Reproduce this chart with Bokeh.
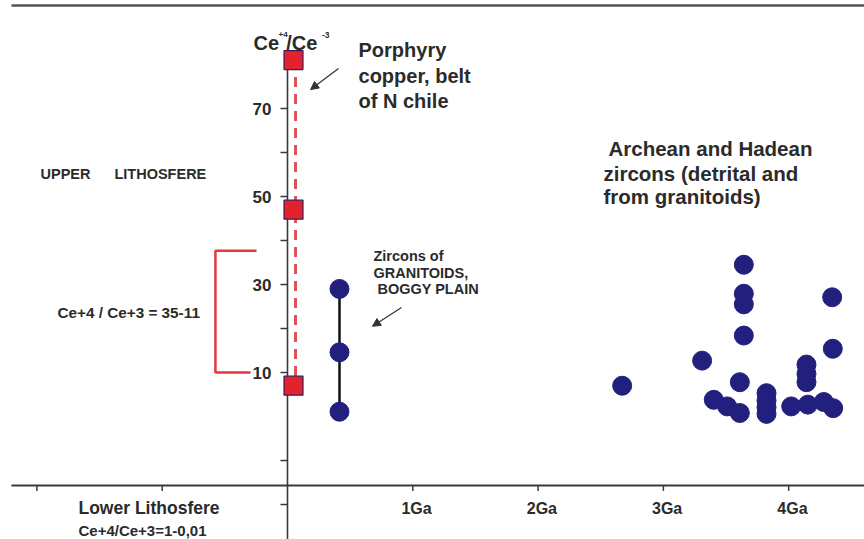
from bokeh.plotting import figure
from bokeh.models import Arrow, NormalHead
from bokeh.core.properties import value
from bokeh.embed import file_html
from bokeh.resources import INLINE

# --- data: Ce4+/Ce3+ ratio against age (Ga) ---
porphyry_ga = [0.048, 0.048, 0.048]
porphyry_ratio = [81.0, 47.0, 7.0]

granitoid_ga = [0.415, 0.415, 0.415]
granitoid_ratio = [29.0, 14.6, 1.1]

archean_ga = [3.642, 3.642, 3.642, 3.642, 4.347, 4.352, 3.309, 2.671, 3.610,
              4.142, 4.142, 4.142, 3.402, 3.509, 3.610, 3.823, 3.823, 3.823,
              3.823, 4.020, 4.153, 4.280, 4.355]
archean_ratio = [34.5, 27.9, 25.5, 18.4, 27.1, 15.4, 12.7, 7.0, 7.8,
                 11.8, 9.7, 7.8, 3.8, 2.3, 0.8, 5.3, 3.6, 2.1,
                 0.6, 2.3, 2.7, 3.3, 1.9]

# upper-lithosphere range bracket
bracket_low = 10.0
bracket_high = 37.7

# axis ticks
y_major_ticks = [70, 50, 30, 10]
y_major_labels = ["70", "50", "30", "10"]
y_minor_ticks = [60, 40, 20, -10, -20]
x_ticks = [-2, -1, 1, 2, 3, 4]
x_label_ticks = [1, 2, 3, 4]
x_labels = ["1Ga", "2Ga", "3Ga", "4Ga"]

FONT = "Liberation Sans"
TEXT = "#2b2b2b"
AXIS = "#3a3a3a"
BLUE = "#22207e"
RED = "#e3232b"

X_AXIS_AT = -15.7
X_LEFT = -2.203

p = figure(width=864, height=539, x_range=(-2.2904, 4.6050), y_range=(-27.95, 94.55),
           x_axis_type=None, y_axis_type=None, min_border=0,
           toolbar_location=None, output_backend="svg", outline_line_color=None)
p.background_fill_color = "white"
p.border_fill_color = "white"


def label(x, y, text, size, align="left", baseline="middle"):
    p.text(x=[x], y=[y], text=[text], text_font=value(FONT), text_font_style="bold",
           text_font_size=size, text_align=align, text_baseline=baseline,
           text_color=TEXT)


# frame line along the top
p.segment(x0=[X_LEFT], y0=[93.4], x1=[4.7], y1=[93.4], line_color="#555555", line_width=2.5)

# axes crossing inside the plot
p.segment(x0=[0], y0=[81.0], x1=[0], y1=[-30], line_color=AXIS, line_width=1.6)
p.segment(x0=[X_LEFT], y0=[X_AXIS_AT], x1=[4.7], y1=[X_AXIS_AT], line_color=AXIS, line_width=2)

y_ticks_all = y_major_ticks + y_minor_ticks
p.segment(x0=[-0.056] * len(y_ticks_all), y0=y_ticks_all, x1=[0] * len(y_ticks_all),
          y1=y_ticks_all, line_color=AXIS, line_width=1.5)
p.segment(x0=x_ticks, y0=[X_AXIS_AT] * len(x_ticks), x1=x_ticks,
          y1=[X_AXIS_AT - 1.2] * len(x_ticks), line_color=AXIS, line_width=1.5)

p.text(x=[-0.128] * len(y_major_ticks), y=y_major_ticks, text=y_major_labels,
       text_font=value(FONT), text_font_style="bold", text_font_size="17px",
       text_align="right", text_baseline="middle", text_color=TEXT)
p.text(x=[t + 0.03 for t in x_label_ticks], y=[-20.9] * len(x_label_ticks), text=x_labels,
       text_font=value(FONT), text_font_style="bold", text_font_size="16px",
       text_align="center", text_baseline="middle", text_color=TEXT)

# axis title Ce+4/Ce-3 with superscripts
label(-0.271, 84.8, "Ce", "20px", baseline="alphabetic")
label(-0.072, 86.8, "+4", "8px", baseline="alphabetic")
label(-0.010, 84.8, "/Ce", "20px", baseline="alphabetic")
label(0.275, 86.8, "-3", "8.5px", baseline="alphabetic")

# upper-lithosphere bracket
p.line(x=[-0.247, -0.575, -0.575, -0.295],
       y=[bracket_high, bracket_high, bracket_low, bracket_low],
       line_color="#e2393e", line_width=2.5)

# porphyry copper: dashed link and squares
p.segment(x0=[0.064], y0=[max(porphyry_ratio)], x1=[0.064], y1=[min(porphyry_ratio)],
          line_color="#e05358", line_width=3, line_dash="10 7")
p.scatter(porphyry_ga, porphyry_ratio, marker="square", size=19,
          fill_color=RED, line_color="#3b1f5e", line_width=1.2)

# Boggy Plain granitoid zircons
p.line(granitoid_ga, granitoid_ratio, line_color="#111111", line_width=2.5)
p.scatter(granitoid_ga, granitoid_ratio, marker="circle", size=19,
          fill_color=BLUE, line_color=BLUE)

# Archean and Hadean zircons
p.scatter(archean_ga, archean_ratio, marker="circle", size=19,
          fill_color=BLUE, line_color=BLUE)

# pointers
for xs, ys, xe, ye in [(0.407, 79.1, 0.184, 74.3), (0.910, 24.8, 0.678, 20.5)]:
    p.add_layout(Arrow(x_start=xs, y_start=ys, x_end=xe, y_end=ye,
                       line_color="#333333", line_width=1.2,
                       end=NormalHead(size=8, fill_color="#333333", line_color="#333333")))

# annotations
label(0.567, 83.2, "Porphyry", "20px")
label(0.567, 77.5, "copper, belt", "20px")
label(0.567, 71.6, "of N chile", "20px")

label(2.562, 60.9, "Archean and Hadean", "20.5px")
label(2.522, 55.2, "zircons (detrital and", "20.5px")
label(2.522, 50.0, "from granitoids)", "20.5px")

label(-1.971, 55.2, "UPPER", "14.5px")
label(-1.381, 55.2, "LITHOSFERE", "14.5px")
label(-1.836, 23.6, "Ce+4 / Ce+3 = 35-11", "15.3px")

label(0.686, 36.4, "Zircons of", "14.5px")
label(0.686, 32.6, "GRANITOIDS,", "14.5px")
label(0.718, 28.9, "BOGGY PLAIN", "14.5px")

label(-1.668, -20.7, "Lower Lithosfere", "17.5px")
label(-1.668, -25.9, "Ce+4/Ce+3=1-0,01", "15px")

open("out.html", "w").write(file_html(p, INLINE))
